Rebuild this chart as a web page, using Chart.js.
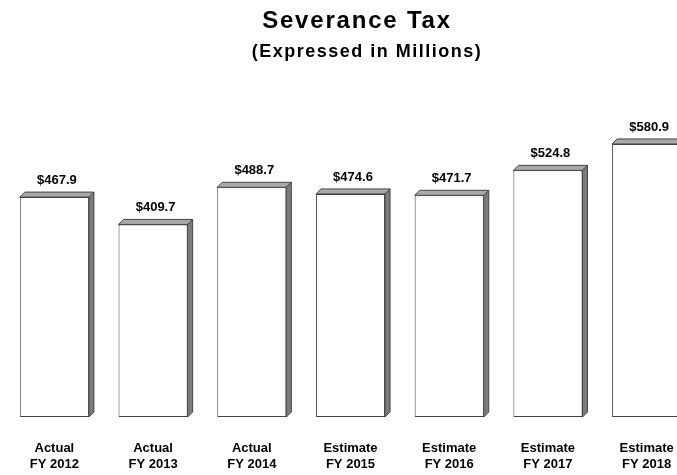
<!DOCTYPE html>
<html>
<head>
<meta charset="utf-8">
<title>Severance Tax</title>
<script src="https://cdn.jsdelivr.net/npm/chart.js@4.4.1/dist/chart.umd.min.js"></script>
<style>
  html, body { margin: 0; padding: 0; background: #fff; overflow: hidden; }
  #wrap { width: 677px; height: 475px; overflow: hidden; }
  canvas { display: block; }
</style>
</head>
<body>
<div id="wrap"><canvas id="chart" width="714" height="475"></canvas></div>
<script>
// Severance tax collections, actual and estimated (millions of dollars)
const basis = ["Actual", "Actual", "Actual", "Estimate", "Estimate", "Estimate", "Estimate"];
const fiscalYears = ["FY 2012", "FY 2013", "FY 2014", "FY 2015", "FY 2016", "FY 2017", "FY 2018"];
const revenue = [467.9, 409.7, 488.7, 474.6, 471.7, 524.8, 580.9];

const FONT = "'Liberation Sans', Arial, sans-serif";
const DEPTH = 5;

// faux 3D: grey top and side faces plus the dollar label over each bar
const boxFaces = {
  id: "boxFaces",
  afterDatasetsDraw(chart) {
    const ctx = chart.ctx;
    const meta = chart.getDatasetMeta(0);
    ctx.save();
    meta.data.forEach((bar, i) => {
      const p = bar.getProps(["x", "y", "base", "width"], true);
      const l = p.x - p.width / 2, r = p.x + p.width / 2;
      const t = p.y, b = p.base;
      ctx.lineWidth = 1;
      ctx.strokeStyle = "#444";
      // top face
      ctx.beginPath();
      ctx.moveTo(l, t);
      ctx.lineTo(l + DEPTH, t - DEPTH);
      ctx.lineTo(r + DEPTH, t - DEPTH);
      ctx.lineTo(r, t);
      ctx.closePath();
      ctx.fillStyle = "#a9a9a9";
      ctx.fill();
      ctx.stroke();
      // side face
      ctx.beginPath();
      ctx.moveTo(r, t);
      ctx.lineTo(r + DEPTH, t - DEPTH);
      ctx.lineTo(r + DEPTH, b - DEPTH);
      ctx.lineTo(r, b);
      ctx.closePath();
      ctx.fillStyle = "#7c7c7c";
      ctx.fill();
      ctx.stroke();

      ctx.fillStyle = "#000";
      ctx.font = "bold 13px " + FONT;
      ctx.textAlign = "center";
      ctx.textBaseline = "alphabetic";
      ctx.fillText("$" + revenue[i].toFixed(1), p.x + DEPTH / 2, t - 13);
    });
    ctx.restore();
  }
};

// heading with wide letter spacing
const heading = {
  id: "heading",
  afterDraw(chart) {
    const ctx = chart.ctx;
    const cx = chart.width / 2;
    ctx.save();
    ctx.fillStyle = "#000";
    ctx.textAlign = "center";
    ctx.textBaseline = "alphabetic";
    ctx.font = "bold 24px " + FONT;
    ctx.letterSpacing = "1.8px";
    ctx.fillText("Severance Tax", cx, 28);
    ctx.font = "bold 18px " + FONT;
    ctx.letterSpacing = "1.5px";
    ctx.fillText("(Expressed in Millions)", cx + 10, 57);
    ctx.restore();
  }
};

new Chart(document.getElementById("chart"), {
  type: "bar",
  data: {
    labels: basis.map((b, i) => [b, fiscalYears[i]]),
    datasets: [{
      data: revenue,
      backgroundColor: "#ffffff",
      borderColor: "#444",
      borderWidth: 1,
      borderSkipped: false,
      barPercentage: 0.7,
      categoryPercentage: 1
    }]
  },
  options: {
    responsive: false,
    animation: false,
    devicePixelRatio: 1,
    layout: { padding: { left: 5, right: 18, top: 88, bottom: 0 } },
    plugins: {
      legend: { display: false },
      tooltip: { enabled: false }
    },
    scales: {
      x: {
        grid: { display: false, drawTicks: false },
        border: { display: false },
        ticks: {
          color: "#000",
          padding: 24,
          maxRotation: 0,
          font: { family: FONT, size: 13, weight: "bold", lineHeight: 1.2 }
        },
        afterFit(scale) { scale.height = 58; }
      },
      y: {
        display: false,
        min: 0,
        max: 700
      }
    }
  },
  plugins: [boxFaces, heading]
});
</script>
</body>
</html>
